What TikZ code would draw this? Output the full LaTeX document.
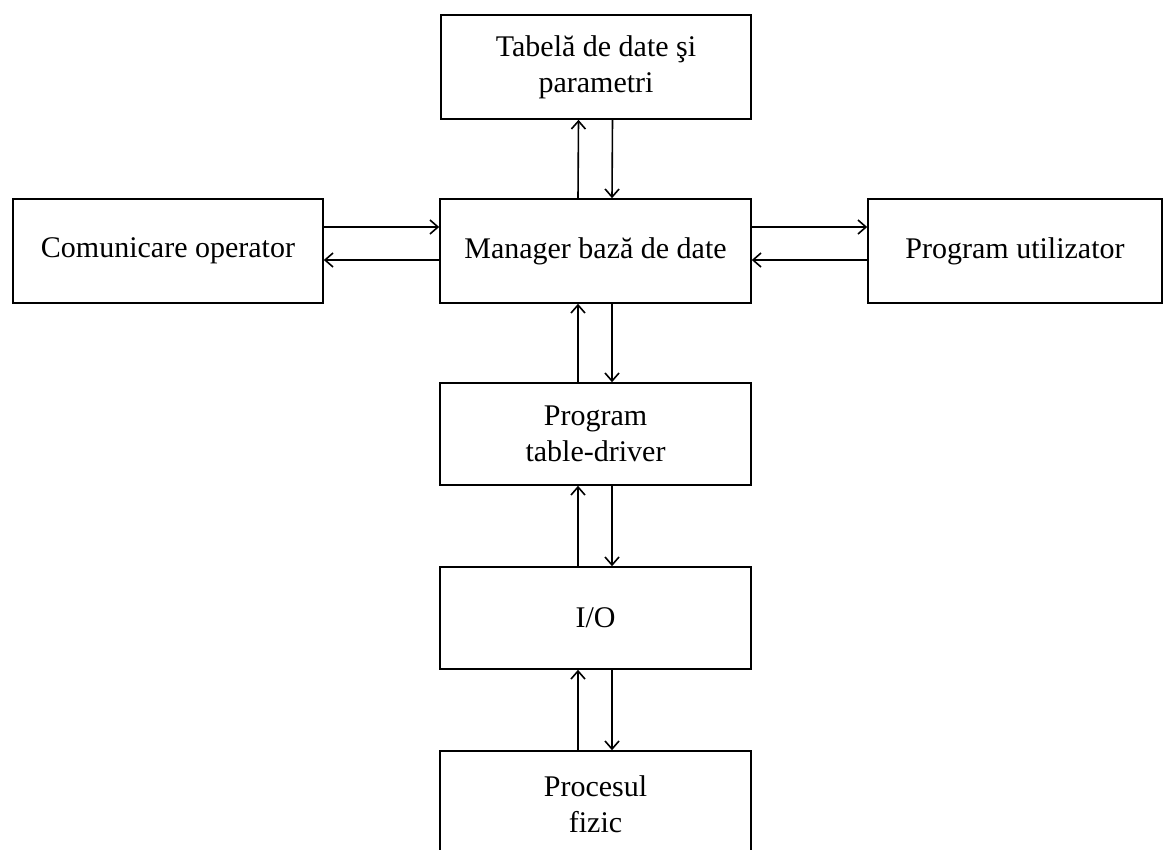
\documentclass[tikz,border=0pt]{standalone}
\usepackage{fontspec}
\setmainfont{Liberation Serif}
\usetikzlibrary{arrows.meta}
\begin{document}
\begin{tikzpicture}[x=1pt,y=-1pt,
  box/.style={draw, line width=1.6pt, inner sep=0pt, align=center,
    font=\fontsize{30}{36}\selectfont},
  arr/.style={line width=1.6pt, -{Straight Barb[length=8pt,width=14pt,line width=1.6pt]}}]
  \useasboundingbox (0,0) rectangle (1167,849);
  \clip (0,0) rectangle (1167,849);
  % boxes
  \node[box, minimum width=310pt, minimum height=104pt] (T) at (596,67) {Tabelă de date şi\\parametri};
  \node[box, minimum width=311pt, minimum height=104pt] (M) at (595.5,251) {Manager bază de date};
  \node[box, minimum width=310pt, minimum height=104pt] (L) at (168,251) {Comunicare operator};
  \node[box, minimum width=294pt, minimum height=104pt] (R) at (1015,251) {Program utilizator};
  \node[box, minimum width=311pt, minimum height=102pt] (P) at (595.5,434) {Program\\table-driver};
  \node[box, minimum width=311pt, minimum height=102pt] (IO) at (595.5,618) {I/O};
  \node[box, minimum width=311pt, minimum height=106pt] (F) at (595.5,804) {Procesul\\fizic};
  % horizontal links
  \draw[arr] ([yshift=24pt]L.east) -- ([yshift=24pt]M.west);
  \draw[arr] ([yshift=-9pt]M.west) -- ([yshift=-9pt]L.east);
  \draw[arr] ([yshift=24pt]M.east) -- ([yshift=24pt]R.west);
  \draw[arr] ([yshift=-9pt]R.west) -- ([yshift=-9pt]M.east);
  % vertical links
  \draw[arr] ([xshift=-17.5pt]M.north) -- ([xshift=-17.5pt]T.south);
  \draw[arr] ([xshift=16.5pt]T.south) -- ([xshift=16.5pt]M.north);
  \draw[arr] ([xshift=-17.5pt]P.north) -- ([xshift=-17.5pt]M.south);
  \draw[arr] ([xshift=16.5pt]M.south) -- ([xshift=16.5pt]P.north);
  \draw[arr] ([xshift=-17.5pt]IO.north) -- ([xshift=-17.5pt]P.south);
  \draw[arr] ([xshift=16.5pt]P.south) -- ([xshift=16.5pt]IO.north);
  \draw[arr] ([xshift=-17.5pt]F.north) -- ([xshift=-17.5pt]IO.south);
  \draw[arr] ([xshift=16.5pt]IO.south) -- ([xshift=16.5pt]F.north);
\end{tikzpicture}
\end{document}
